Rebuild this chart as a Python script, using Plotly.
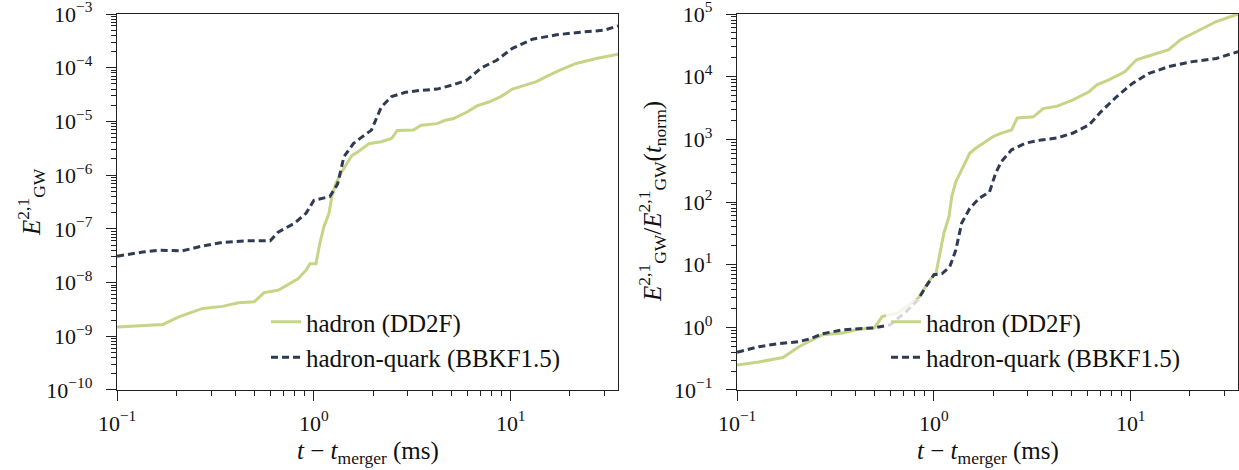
import plotly.graph_objects as go

# ---------------- data ----------------
# Left panel: E_GW^{2,1}
t_had_L = [0.100, 0.129, 0.171, 0.206, 0.272, 0.343, 0.413, 0.498, 0.559, 0.658, 0.723, 0.830,
           0.912, 0.955, 1.024, 1.072, 1.124, 1.193, 1.233, 1.291, 1.384, 1.555, 1.667, 1.917,
           2.20, 2.48, 2.65, 3.20, 3.51, 4.23, 4.64, 5.09, 6.00, 6.73, 7.74, 8.90, 10.2, 11.8,
           13.5, 15.6, 17.9, 21.5, 27.2, 35.1]
E_had_L = [1.48e-9, 1.55e-9, 1.66e-9, 2.3e-9, 3.3e-9, 3.6e-9, 4.2e-9, 4.4e-9, 6.5e-9, 7.2e-9, 8.9e-9, 1.17e-8,
           1.7e-8, 2.24e-8, 2.24e-8, 5.4e-8, 1.1e-7, 1.95e-7, 4.0e-7, 6.9e-7, 1.15e-6, 2.3e-6, 2.7e-6, 3.9e-6,
           4.2e-6, 4.8e-6, 6.8e-6, 6.9e-6, 8.5e-6, 9.1e-6, 1.05e-5, 1.12e-5, 1.5e-5, 1.95e-5, 2.3e-5, 2.9e-5, 4.0e-5, 4.8e-5,
           5.5e-5, 7.2e-5, 9.1e-5, 1.2e-4, 1.48e-4, 1.78e-4]

t_hq_L = [0.100, 0.135, 0.163, 0.215, 0.272, 0.343, 0.454, 0.600, 0.658, 0.793, 0.912, 1.00,
          1.205, 1.32, 1.42, 1.59, 1.75, 1.96, 2.20, 2.48, 2.92, 3.51, 4.23, 5.09, 6.00, 7.05,
          8.49, 10.2, 12.9, 17.1, 22.6, 29.9, 35.1]
E_hq_L = [3.1e-8, 3.7e-8, 4.0e-8, 3.9e-8, 4.8e-8, 5.6e-8, 6.0e-8, 6.0e-8, 8.7e-8, 1.26e-7, 1.95e-7, 3.4e-7,
          4.0e-7, 6.9e-7, 2.2e-6, 3.9e-6, 5.1e-6, 6.9e-6, 1.86e-5, 2.9e-5, 3.5e-5, 3.8e-5, 4.0e-5, 4.8e-5, 5.9e-5, 9.8e-5,
          1.38e-4, 2.3e-4, 3.4e-4, 4.1e-4, 4.6e-4, 5.0e-4, 6.0e-4]

# Right panel: E_GW^{2,1} / E_GW^{2,1}(t_norm)
t_had_R = [0.100, 0.129, 0.171, 0.206, 0.272, 0.343, 0.413, 0.498, 0.546, 0.658, 0.723, 0.830,
           0.955, 1.024, 1.072, 1.124, 1.193, 1.233, 1.291, 1.384, 1.52, 1.63, 1.83, 2.01,
           2.20, 2.48, 2.65, 3.20, 3.59, 4.23, 5.09, 6.14, 6.73, 7.74, 9.33, 10.7, 12.9, 15.6,
           17.9, 21.5, 27.2, 35.1]
R_had = [0.25, 0.28, 0.33, 0.49, 0.76, 0.81, 0.93, 0.98, 1.48, 1.70, 2.14, 2.88,
         5.75, 7.2, 15, 32, 59, 123, 209, 324, 600, 720, 910, 1120,
         1260, 1410, 2190, 2290, 3090, 3390, 4270, 5750, 7400, 8900, 12000, 18600, 22400, 26900,
         38900, 52500, 75900, 100000]

t_hq_R = [0.100, 0.129, 0.163, 0.206, 0.237, 0.272, 0.343, 0.413, 0.498, 0.600, 0.723, 0.830,
          0.912, 1.00, 1.10, 1.205, 1.291, 1.384, 1.52, 1.70, 1.917, 2.06, 2.20, 2.48, 2.92,
          3.51, 4.23, 5.09, 6.14, 7.05, 8.49, 10.2, 12.3, 15.6, 20.6, 27.2, 35.1]
R_hq = [0.40, 0.49, 0.55, 0.59, 0.66, 0.79, 0.91, 0.95, 0.98, 1.10, 1.78, 2.75,
        4.5, 6.9, 7.2, 9.3, 17, 46, 79, 115, 145, 290, 440, 680, 870,
        980, 1050, 1260, 1700, 2750, 4800, 7800, 11200, 14500, 17400, 19500, 25100]

series_names = ["hadron (DD2F)", "hadron-quark (BBKF1.5)"]
x_tick_vals = [0.1, 1, 10]
x_tick_text = ["10<sup>−1</sup>", "10<sup>0</sup>", "10<sup>1</sup>"]
yL_tick_vals = [1e-10, 1e-9, 1e-8, 1e-7, 1e-6, 1e-5, 1e-4, 1e-3]
yL_tick_text = ["10<sup>−10</sup>", "10<sup>−9</sup>", "10<sup>−8</sup>", "10<sup>−7</sup>",
                "10<sup>−6</sup>", "10<sup>−5</sup>", "10<sup>−4</sup>", "10<sup>−3</sup>"]
yR_tick_vals = [1e-1, 1e0, 1e1, 1e2, 1e3, 1e4, 1e5]
yR_tick_text = ["10<sup>−1</sup>", "10<sup>0</sup>", "10<sup>1</sup>", "10<sup>2</sup>",
                "10<sup>3</sup>", "10<sup>4</sup>", "10<sup>5</sup>"]

# ---------------- styling ----------------
GREEN = "#c5d586"
NAVY = "#2f3a53"
FONT = "'Liberation Serif', 'DejaVu Serif', 'Times New Roman', serif"
W, H = 1239, 470


def minor_vals(lo_exp, hi_exp):
    vals = []
    for e in range(lo_exp, hi_exp + 1):
        for m in range(2, 10):
            vals.append(m * 10.0 ** e)
    return vals


fig = go.Figure()
fig.add_trace(go.Scatter(x=t_had_L, y=E_had_L, mode="lines", name=series_names[0],
                         line=dict(color=GREEN, width=3), xaxis="x", yaxis="y", legend="legend"))
fig.add_trace(go.Scatter(x=t_hq_L, y=E_hq_L, mode="lines", name=series_names[1],
                         line=dict(color=NAVY, width=3, dash="7px,4px"), xaxis="x", yaxis="y", legend="legend"))
fig.add_trace(go.Scatter(x=t_had_R, y=R_had, mode="lines", name=series_names[0],
                         line=dict(color=GREEN, width=3), xaxis="x2", yaxis="y2", legend="legend2"))
fig.add_trace(go.Scatter(x=t_hq_R, y=R_hq, mode="lines", name=series_names[1],
                         line=dict(color=NAVY, width=3, dash="7px,4px"), xaxis="x2", yaxis="y2", legend="legend2"))

x_lo, x_hi = 117, 618
x2_lo, x2_hi = 737, 1238
y_top, y_bot = 14, 390

common_axis = dict(type="log", showline=True, linecolor="#222", linewidth=1.3, mirror=True,
                   ticks="outside", ticklen=10, tickwidth=1.1, tickcolor="#222",
                   showgrid=False, zeroline=False, tickmode="array", ticklabeloverflow="allow",
                   tickfont=dict(family=FONT, size=22, color="#111"), automargin=False)

minor_style = dict(tickmode="array", ticks="outside", ticklen=5, tickwidth=1, tickcolor="#222")

xaxis_common = dict(common_axis, range=[-1.0005, 1.545], tickvals=x_tick_vals, ticktext=x_tick_text,
                    ticklabelstandoff=3,
                    minor=dict(minor_style, tickvals=minor_vals(-1, 1)))

fig.update_layout(
    width=W, height=H,
    margin=dict(l=0, r=0, t=0, b=0),
    paper_bgcolor="white", plot_bgcolor="white",
    font=dict(family=FONT, color="#111"),
    xaxis=dict(xaxis_common, domain=[x_lo / W, x_hi / W], anchor="y"),
    xaxis2=dict(xaxis_common, domain=[x2_lo / W, x2_hi / W], anchor="y2"),
    yaxis=dict(common_axis, range=[-10.0005, -2.9995], domain=[1 - y_bot / H, 1 - y_top / H], anchor="x",
               tickvals=yL_tick_vals, ticktext=yL_tick_text, ticklabelstandoff=9,
               minor=dict(minor_style, tickvals=minor_vals(-10, -4))),
    yaxis2=dict(common_axis, range=[-1.0005, 5.0005], domain=[1 - y_bot / H, 1 - y_top / H], anchor="x2",
                tickvals=yR_tick_vals, ticktext=yR_tick_text, ticklabelstandoff=9,
                minor=dict(minor_style, tickvals=minor_vals(-1, 4))),
    legend=dict(x=266 / W, y=1 - 299 / H, xanchor="left", yanchor="top",
                bgcolor="rgba(255,255,255,0.8)", borderwidth=0,
                font=dict(family=FONT, size=25, color="#111"), tracegroupgap=0),
    legend2=dict(x=(266 + 620) / W, y=1 - 299 / H, xanchor="left", yanchor="top",
                 bgcolor="rgba(255,255,255,0.8)", borderwidth=0,
                 font=dict(family=FONT, size=25, color="#111"), tracegroupgap=0),
    showlegend=True,
)

# axis titles as annotations
x_title = "<i>t</i> − <i>t</i><sub>merger</sub> (ms)"
fig.add_annotation(text=x_title, x=(x_lo + x_hi) / 2 / W, y=1 - 452 / H, xref="paper", yref="paper",
                   showarrow=False, xanchor="center", yanchor="middle",
                   font=dict(family=FONT, size=25, color="#111"))
fig.add_annotation(text=x_title, x=(x2_lo + x2_hi) / 2 / W, y=1 - 452 / H, xref="paper", yref="paper",
                   showarrow=False, xanchor="center", yanchor="middle",
                   font=dict(family=FONT, size=25, color="#111"))
fig.add_annotation(text="<i>E</i><sup>2,1</sup><sub>GW</sub>", x=31 / W, y=1 - 202 / H,
                   xref="paper", yref="paper", showarrow=False, textangle=-90,
                   xanchor="center", yanchor="middle", font=dict(family=FONT, size=25, color="#111"))
fig.add_annotation(text="<i>E</i><sup>2,1</sup><sub>GW</sub>/<i>E</i><sup>2,1</sup><sub>GW</sub>(<i>t</i><sub>norm</sub>)",
                   x=652 / W, y=1 - 202 / H,
                   xref="paper", yref="paper", showarrow=False, textangle=-90,
                   xanchor="center", yanchor="middle", font=dict(family=FONT, size=25, color="#111"))

fig.write_html("out.html", config={"displayModeBar": False},
               post_script="document.body.style.margin='0';")
